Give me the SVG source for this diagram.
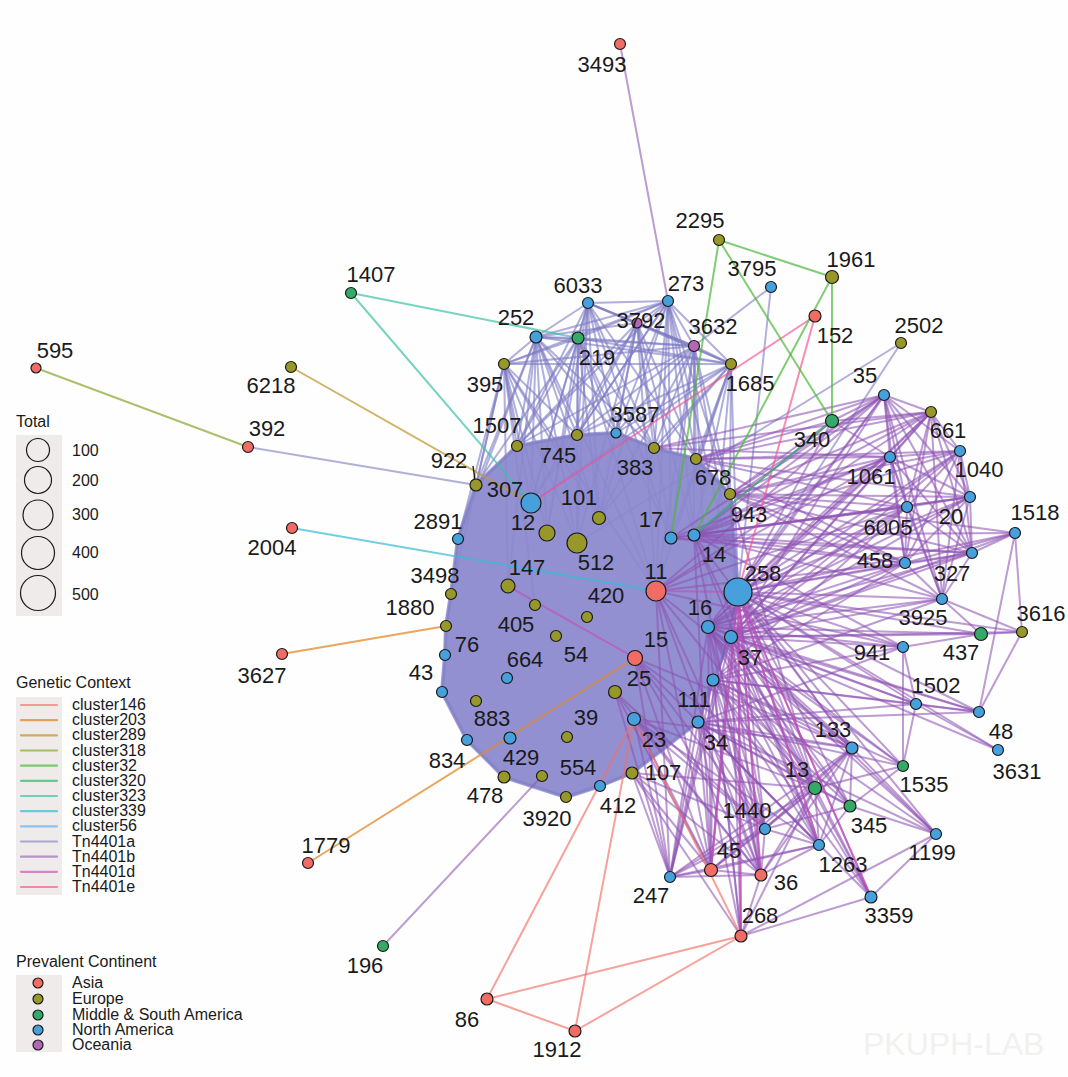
<svg xmlns="http://www.w3.org/2000/svg" width="1068" height="1077" viewBox="0 0 1068 1077">
<style>
.e line{stroke-width:2;stroke-linecap:round;fill:none}
.a line,line.a{stroke:#7d7ac3;stroke-opacity:.6}
.b line,line.b{stroke:#8e52b4;stroke-opacity:.58}
.d line,line.d{stroke:#c84cb8;stroke-opacity:.65}
.te line,line.te{stroke:#f2508f;stroke-opacity:.65}
line.c146,.c146 line{stroke:#f26f66;stroke-opacity:.65}
line.c203{stroke:#e2882a;stroke-opacity:.75}
line.c289{stroke:#c09a35;stroke-opacity:.75}
line.c318{stroke:#8fab3a;stroke-opacity:.75}
line.c32,.c32 line{stroke:#4cb83a;stroke-opacity:.7}
line.c320{stroke:#2fb870;stroke-opacity:.7}
line.c323,.c323 line{stroke:#3cc0a8;stroke-opacity:.7}
line.c339{stroke:#36bad6;stroke-opacity:.7}
line.c56{stroke:#4aa8f0;stroke-opacity:.6}
.lg line{stroke-width:2.2}
circle{stroke:#1a1a1a;stroke-width:1.2}
.as{fill:#f06c64}.eu{fill:#97972a}.ms{fill:#35aa68}.na{fill:#46a0dc}.oc{fill:#b468b4}
.lbl{font-family:"Liberation Sans",Arial,sans-serif;font-size:22px;fill:#1a1a1a;text-anchor:middle}
.lt{font-family:"Liberation Sans",Arial,sans-serif;font-size:16px;fill:#1a1a1a}
</style>
<rect width="1068" height="1077" fill="#fefefe"/>
<text x="863" y="1055" font-family="'Liberation Sans',Arial,sans-serif" font-size="32" fill="#f1f1ef">PKUPH-LAB</text>

<g id="edges" class="e">
<g class="a">
<line x1="588" y1="303" x2="668" y2="301"/><line x1="588" y1="303" x2="536" y2="337"/><line x1="588" y1="303" x2="578" y2="338"/><line x1="588" y1="303" x2="637" y2="323"/><line x1="588" y1="303" x2="694" y2="346"/><line x1="588" y1="303" x2="731" y2="364"/>
<line x1="668" y1="301" x2="637" y2="323"/><line x1="668" y1="301" x2="694" y2="346"/><line x1="668" y1="301" x2="731" y2="364"/><line x1="668" y1="301" x2="536" y2="337"/><line x1="668" y1="301" x2="578" y2="338"/><line x1="668" y1="301" x2="504" y2="364"/>
<line x1="536" y1="337" x2="578" y2="338"/><line x1="536" y1="337" x2="504" y2="364"/><line x1="536" y1="337" x2="694" y2="346"/><line x1="536" y1="337" x2="731" y2="364"/>
<line x1="578" y1="338" x2="504" y2="364"/><line x1="578" y1="338" x2="731" y2="364"/><line x1="578" y1="338" x2="694" y2="346"/>
<line x1="637" y1="323" x2="694" y2="346"/><line x1="637" y1="323" x2="731" y2="364"/><line x1="637" y1="323" x2="536" y2="337"/>
<line x1="504" y1="364" x2="731" y2="364"/><line x1="694" y1="346" x2="731" y2="364"/><line x1="694" y1="346" x2="504" y2="364"/>
<line x1="504" y1="364" x2="517" y2="446"/><line x1="504" y1="364" x2="476" y2="485"/><line x1="504" y1="364" x2="531" y2="503"/><line x1="504" y1="364" x2="458" y2="539"/><line x1="504" y1="364" x2="547" y2="533"/><line x1="504" y1="364" x2="577" y2="435"/><line x1="504" y1="364" x2="508" y2="586"/><line x1="504" y1="364" x2="577" y2="543"/><line x1="504" y1="364" x2="451" y2="594"/><line x1="504" y1="364" x2="599" y2="518"/><line x1="504" y1="364" x2="656" y2="591"/><line x1="504" y1="364" x2="535" y2="605"/>
<line x1="536" y1="337" x2="517" y2="446"/><line x1="536" y1="337" x2="577" y2="435"/><line x1="536" y1="337" x2="531" y2="503"/><line x1="536" y1="337" x2="476" y2="485"/><line x1="536" y1="337" x2="547" y2="533"/><line x1="536" y1="337" x2="577" y2="543"/><line x1="536" y1="337" x2="599" y2="518"/><line x1="536" y1="337" x2="616" y2="433"/><line x1="536" y1="337" x2="654" y2="448"/><line x1="536" y1="337" x2="508" y2="586"/><line x1="536" y1="337" x2="656" y2="591"/><line x1="536" y1="337" x2="458" y2="539"/>
<line x1="578" y1="338" x2="577" y2="435"/><line x1="578" y1="338" x2="517" y2="446"/><line x1="578" y1="338" x2="616" y2="433"/><line x1="578" y1="338" x2="531" y2="503"/><line x1="578" y1="338" x2="599" y2="518"/><line x1="578" y1="338" x2="654" y2="448"/><line x1="578" y1="338" x2="547" y2="533"/><line x1="578" y1="338" x2="577" y2="543"/><line x1="578" y1="338" x2="671" y2="538"/><line x1="578" y1="338" x2="656" y2="591"/><line x1="578" y1="338" x2="476" y2="485"/>
<line x1="588" y1="303" x2="577" y2="435"/><line x1="588" y1="303" x2="616" y2="433"/><line x1="588" y1="303" x2="654" y2="448"/><line x1="588" y1="303" x2="517" y2="446"/><line x1="588" y1="303" x2="599" y2="518"/><line x1="588" y1="303" x2="531" y2="503"/><line x1="588" y1="303" x2="547" y2="533"/><line x1="588" y1="303" x2="671" y2="538"/><line x1="588" y1="303" x2="696" y2="459"/><line x1="588" y1="303" x2="577" y2="543"/>
<line x1="637" y1="323" x2="616" y2="433"/><line x1="637" y1="323" x2="577" y2="435"/><line x1="637" y1="323" x2="654" y2="448"/><line x1="637" y1="323" x2="696" y2="459"/><line x1="637" y1="323" x2="599" y2="518"/><line x1="637" y1="323" x2="517" y2="446"/><line x1="637" y1="323" x2="531" y2="503"/><line x1="637" y1="323" x2="671" y2="538"/><line x1="637" y1="323" x2="694" y2="535"/><line x1="637" y1="323" x2="656" y2="591"/><line x1="637" y1="323" x2="577" y2="543"/>
<line x1="668" y1="301" x2="654" y2="448"/><line x1="668" y1="301" x2="696" y2="459"/><line x1="668" y1="301" x2="577" y2="435"/><line x1="668" y1="301" x2="616" y2="433"/><line x1="668" y1="301" x2="730" y2="494"/><line x1="668" y1="301" x2="671" y2="538"/><line x1="668" y1="301" x2="694" y2="535"/><line x1="668" y1="301" x2="517" y2="446"/><line x1="668" y1="301" x2="599" y2="518"/><line x1="668" y1="301" x2="531" y2="503"/><line x1="668" y1="301" x2="738" y2="592"/><line x1="668" y1="301" x2="656" y2="591"/>
<line x1="694" y1="346" x2="696" y2="459"/><line x1="694" y1="346" x2="654" y2="448"/><line x1="694" y1="346" x2="730" y2="494"/><line x1="694" y1="346" x2="577" y2="435"/><line x1="694" y1="346" x2="694" y2="535"/><line x1="694" y1="346" x2="671" y2="538"/><line x1="694" y1="346" x2="599" y2="518"/><line x1="694" y1="346" x2="616" y2="433"/><line x1="694" y1="346" x2="738" y2="592"/><line x1="694" y1="346" x2="517" y2="446"/><line x1="694" y1="346" x2="656" y2="591"/><line x1="694" y1="346" x2="708" y2="627"/>
<line x1="731" y1="364" x2="696" y2="459"/><line x1="731" y1="364" x2="730" y2="494"/><line x1="731" y1="364" x2="654" y2="448"/><line x1="731" y1="364" x2="694" y2="535"/><line x1="731" y1="364" x2="671" y2="538"/><line x1="731" y1="364" x2="738" y2="592"/><line x1="731" y1="364" x2="599" y2="518"/><line x1="731" y1="364" x2="616" y2="433"/><line x1="731" y1="364" x2="577" y2="435"/><line x1="731" y1="364" x2="708" y2="627"/><line x1="731" y1="364" x2="656" y2="591"/><line x1="731" y1="364" x2="531" y2="503"/>
<line x1="248" y1="447" x2="476" y2="485"/><line x1="901" y1="343" x2="577" y2="543"/><line x1="901" y1="343" x2="738" y2="592"/><line x1="771" y1="287" x2="738" y2="592"/><line x1="771" y1="287" x2="694" y2="346"/>
</g>
<polygon points="517,446 577,435 616,433 654,448 696,459 730,494 738,592 731,637 713,680 698,722 632,773 600,786 566,797 504,777 467,740 442,692 445,655 446,626 451,594 458,539 476,485" fill="#8a88cd" fill-opacity=".93" stroke="#8a88cd" stroke-opacity=".8" stroke-width="4" stroke-linejoin="round"/>
<g class="a">
<line x1="476" y1="485" x2="458" y2="539"/><line x1="476" y1="485" x2="517" y2="446"/><line x1="517" y1="446" x2="577" y2="435"/><line x1="577" y1="435" x2="616" y2="433"/><line x1="616" y1="433" x2="654" y2="448"/><line x1="654" y1="448" x2="696" y2="459"/><line x1="696" y1="459" x2="730" y2="494"/><line x1="730" y1="494" x2="738" y2="592"/><line x1="738" y1="592" x2="731" y2="637"/><line x1="731" y1="637" x2="713" y2="680"/><line x1="713" y1="680" x2="698" y2="722"/><line x1="698" y1="722" x2="632" y2="773"/><line x1="632" y1="773" x2="600" y2="786"/><line x1="600" y1="786" x2="566" y2="797"/><line x1="566" y1="797" x2="504" y2="777"/><line x1="504" y1="777" x2="467" y2="740"/><line x1="467" y1="740" x2="442" y2="692"/><line x1="442" y1="692" x2="445" y2="655"/><line x1="445" y1="655" x2="446" y2="626"/><line x1="446" y1="626" x2="451" y2="594"/><line x1="451" y1="594" x2="458" y2="539"/>
</g>
<g class="b">
<line x1="620" y1="44" x2="668" y2="301"/><line x1="383" y1="946" x2="542" y2="776"/>
<line x1="738" y1="592" x2="884" y2="395"/><line x1="738" y1="592" x2="931" y2="412"/><line x1="738" y1="592" x2="832" y2="421"/><line x1="738" y1="592" x2="890" y2="457"/><line x1="738" y1="592" x2="960" y2="451"/><line x1="738" y1="592" x2="970" y2="497"/><line x1="738" y1="592" x2="907" y2="507"/><line x1="738" y1="592" x2="1015" y2="533"/><line x1="738" y1="592" x2="972" y2="553"/><line x1="738" y1="592" x2="905" y2="563"/><line x1="738" y1="592" x2="942" y2="599"/><line x1="738" y1="592" x2="981" y2="634"/><line x1="738" y1="592" x2="1022" y2="632"/><line x1="738" y1="592" x2="903" y2="647"/><line x1="738" y1="592" x2="916" y2="704"/><line x1="738" y1="592" x2="979" y2="712"/><line x1="738" y1="592" x2="998" y2="750"/><line x1="738" y1="592" x2="852" y2="748"/><line x1="738" y1="592" x2="903" y2="766"/><line x1="738" y1="592" x2="815" y2="788"/><line x1="738" y1="592" x2="850" y2="806"/><line x1="738" y1="592" x2="936" y2="834"/><line x1="738" y1="592" x2="765" y2="829"/><line x1="738" y1="592" x2="819" y2="845"/><line x1="738" y1="592" x2="711" y2="870"/><line x1="738" y1="592" x2="761" y2="875"/><line x1="738" y1="592" x2="670" y2="877"/><line x1="738" y1="592" x2="871" y2="897"/><line x1="738" y1="592" x2="741" y2="936"/>
<line x1="731" y1="637" x2="884" y2="395"/><line x1="731" y1="637" x2="931" y2="412"/><line x1="731" y1="637" x2="890" y2="457"/><line x1="731" y1="637" x2="907" y2="507"/><line x1="731" y1="637" x2="970" y2="497"/><line x1="731" y1="637" x2="972" y2="553"/><line x1="731" y1="637" x2="905" y2="563"/><line x1="731" y1="637" x2="942" y2="599"/><line x1="731" y1="637" x2="981" y2="634"/><line x1="731" y1="637" x2="903" y2="647"/><line x1="731" y1="637" x2="916" y2="704"/><line x1="731" y1="637" x2="979" y2="712"/><line x1="731" y1="637" x2="852" y2="748"/><line x1="731" y1="637" x2="903" y2="766"/><line x1="731" y1="637" x2="815" y2="788"/><line x1="731" y1="637" x2="850" y2="806"/><line x1="731" y1="637" x2="936" y2="834"/><line x1="731" y1="637" x2="819" y2="845"/><line x1="731" y1="637" x2="765" y2="829"/><line x1="731" y1="637" x2="761" y2="875"/><line x1="731" y1="637" x2="711" y2="870"/><line x1="731" y1="637" x2="670" y2="877"/><line x1="731" y1="637" x2="871" y2="897"/><line x1="731" y1="637" x2="960" y2="451"/><line x1="731" y1="637" x2="1022" y2="632"/><line x1="731" y1="637" x2="741" y2="936"/><line x1="731" y1="637" x2="998" y2="750"/><line x1="731" y1="637" x2="1015" y2="533"/>
<line x1="708" y1="627" x2="884" y2="395"/><line x1="708" y1="627" x2="890" y2="457"/><line x1="708" y1="627" x2="907" y2="507"/><line x1="708" y1="627" x2="905" y2="563"/><line x1="708" y1="627" x2="942" y2="599"/><line x1="708" y1="627" x2="903" y2="647"/><line x1="708" y1="627" x2="916" y2="704"/><line x1="708" y1="627" x2="852" y2="748"/><line x1="708" y1="627" x2="815" y2="788"/><line x1="708" y1="627" x2="850" y2="806"/><line x1="708" y1="627" x2="819" y2="845"/><line x1="708" y1="627" x2="765" y2="829"/><line x1="708" y1="627" x2="761" y2="875"/><line x1="708" y1="627" x2="711" y2="870"/><line x1="708" y1="627" x2="670" y2="877"/><line x1="708" y1="627" x2="741" y2="936"/><line x1="708" y1="627" x2="931" y2="412"/><line x1="708" y1="627" x2="960" y2="451"/><line x1="708" y1="627" x2="970" y2="497"/><line x1="708" y1="627" x2="972" y2="553"/><line x1="708" y1="627" x2="981" y2="634"/><line x1="708" y1="627" x2="979" y2="712"/><line x1="708" y1="627" x2="903" y2="766"/><line x1="708" y1="627" x2="936" y2="834"/><line x1="708" y1="627" x2="871" y2="897"/>
<line x1="713" y1="680" x2="942" y2="599"/><line x1="713" y1="680" x2="903" y2="647"/><line x1="713" y1="680" x2="916" y2="704"/><line x1="713" y1="680" x2="852" y2="748"/><line x1="713" y1="680" x2="815" y2="788"/><line x1="713" y1="680" x2="850" y2="806"/><line x1="713" y1="680" x2="819" y2="845"/><line x1="713" y1="680" x2="765" y2="829"/><line x1="713" y1="680" x2="761" y2="875"/><line x1="713" y1="680" x2="711" y2="870"/><line x1="713" y1="680" x2="670" y2="877"/><line x1="713" y1="680" x2="903" y2="766"/><line x1="713" y1="680" x2="979" y2="712"/><line x1="713" y1="680" x2="936" y2="834"/><line x1="713" y1="680" x2="871" y2="897"/><line x1="713" y1="680" x2="741" y2="936"/><line x1="713" y1="680" x2="905" y2="563"/><line x1="713" y1="680" x2="907" y2="507"/>
<line x1="698" y1="722" x2="903" y2="647"/><line x1="698" y1="722" x2="852" y2="748"/><line x1="698" y1="722" x2="815" y2="788"/><line x1="698" y1="722" x2="850" y2="806"/><line x1="698" y1="722" x2="819" y2="845"/><line x1="698" y1="722" x2="765" y2="829"/><line x1="698" y1="722" x2="761" y2="875"/><line x1="698" y1="722" x2="711" y2="870"/><line x1="698" y1="722" x2="670" y2="877"/><line x1="698" y1="722" x2="916" y2="704"/><line x1="698" y1="722" x2="903" y2="766"/><line x1="698" y1="722" x2="936" y2="834"/><line x1="698" y1="722" x2="871" y2="897"/><line x1="698" y1="722" x2="741" y2="936"/><line x1="698" y1="722" x2="979" y2="712"/>
<line x1="694" y1="535" x2="884" y2="395"/><line x1="694" y1="535" x2="931" y2="412"/><line x1="694" y1="535" x2="890" y2="457"/><line x1="694" y1="535" x2="960" y2="451"/><line x1="694" y1="535" x2="907" y2="507"/><line x1="694" y1="535" x2="970" y2="497"/><line x1="694" y1="535" x2="905" y2="563"/><line x1="694" y1="535" x2="972" y2="553"/><line x1="694" y1="535" x2="832" y2="421"/><line x1="694" y1="535" x2="942" y2="599"/><line x1="694" y1="535" x2="903" y2="647"/><line x1="694" y1="535" x2="1015" y2="533"/><line x1="694" y1="535" x2="815" y2="788"/><line x1="694" y1="535" x2="852" y2="748"/><line x1="694" y1="535" x2="819" y2="845"/><line x1="694" y1="535" x2="711" y2="870"/><line x1="694" y1="535" x2="761" y2="875"/>
<line x1="730" y1="494" x2="884" y2="395"/><line x1="730" y1="494" x2="931" y2="412"/><line x1="730" y1="494" x2="890" y2="457"/><line x1="730" y1="494" x2="960" y2="451"/><line x1="730" y1="494" x2="970" y2="497"/><line x1="730" y1="494" x2="907" y2="507"/><line x1="730" y1="494" x2="832" y2="421"/><line x1="730" y1="494" x2="905" y2="563"/><line x1="730" y1="494" x2="972" y2="553"/><line x1="730" y1="494" x2="942" y2="599"/><line x1="730" y1="494" x2="1015" y2="533"/><line x1="730" y1="494" x2="815" y2="788"/>
<line x1="696" y1="459" x2="884" y2="395"/><line x1="696" y1="459" x2="931" y2="412"/><line x1="696" y1="459" x2="890" y2="457"/><line x1="696" y1="459" x2="832" y2="421"/><line x1="696" y1="459" x2="907" y2="507"/><line x1="696" y1="459" x2="970" y2="497"/><line x1="696" y1="459" x2="960" y2="451"/><line x1="696" y1="459" x2="905" y2="563"/>
<line x1="654" y1="448" x2="884" y2="395"/><line x1="654" y1="448" x2="931" y2="412"/><line x1="654" y1="448" x2="890" y2="457"/>
<line x1="671" y1="538" x2="890" y2="457"/><line x1="671" y1="538" x2="907" y2="507"/><line x1="671" y1="538" x2="970" y2="497"/><line x1="671" y1="538" x2="905" y2="563"/><line x1="671" y1="538" x2="972" y2="553"/><line x1="671" y1="538" x2="884" y2="395"/>
<line x1="634" y1="719" x2="670" y2="877"/><line x1="634" y1="719" x2="711" y2="870"/><line x1="634" y1="719" x2="761" y2="875"/><line x1="634" y1="719" x2="815" y2="788"/><line x1="634" y1="719" x2="765" y2="829"/><line x1="634" y1="719" x2="819" y2="845"/><line x1="634" y1="719" x2="852" y2="748"/>
<line x1="632" y1="773" x2="670" y2="877"/><line x1="632" y1="773" x2="711" y2="870"/><line x1="632" y1="773" x2="761" y2="875"/><line x1="632" y1="773" x2="815" y2="788"/><line x1="632" y1="773" x2="765" y2="829"/><line x1="632" y1="773" x2="741" y2="936"/>
<line x1="656" y1="591" x2="890" y2="457"/><line x1="656" y1="591" x2="907" y2="507"/><line x1="656" y1="591" x2="905" y2="563"/><line x1="656" y1="591" x2="815" y2="788"/><line x1="656" y1="591" x2="884" y2="395"/><line x1="656" y1="591" x2="931" y2="412"/><line x1="656" y1="591" x2="903" y2="647"/><line x1="656" y1="591" x2="852" y2="748"/><line x1="656" y1="591" x2="765" y2="829"/><line x1="656" y1="591" x2="711" y2="870"/><line x1="656" y1="591" x2="761" y2="875"/><line x1="656" y1="591" x2="670" y2="877"/>
<line x1="635" y1="658" x2="711" y2="870"/><line x1="635" y1="658" x2="761" y2="875"/><line x1="635" y1="658" x2="670" y2="877"/><line x1="635" y1="658" x2="765" y2="829"/><line x1="635" y1="658" x2="815" y2="788"/><line x1="635" y1="658" x2="852" y2="748"/><line x1="635" y1="658" x2="819" y2="845"/>
<line x1="615" y1="692" x2="711" y2="870"/><line x1="615" y1="692" x2="761" y2="875"/><line x1="615" y1="692" x2="670" y2="877"/><line x1="615" y1="692" x2="765" y2="829"/>
<line x1="884" y1="395" x2="931" y2="412"/><line x1="884" y1="395" x2="890" y2="457"/><line x1="884" y1="395" x2="960" y2="451"/><line x1="884" y1="395" x2="970" y2="497"/><line x1="884" y1="395" x2="907" y2="507"/><line x1="884" y1="395" x2="905" y2="563"/><line x1="884" y1="395" x2="972" y2="553"/><line x1="884" y1="395" x2="942" y2="599"/><line x1="884" y1="395" x2="832" y2="421"/>
<line x1="931" y1="412" x2="890" y2="457"/><line x1="931" y1="412" x2="960" y2="451"/><line x1="931" y1="412" x2="970" y2="497"/><line x1="931" y1="412" x2="907" y2="507"/><line x1="931" y1="412" x2="905" y2="563"/><line x1="931" y1="412" x2="972" y2="553"/><line x1="931" y1="412" x2="942" y2="599"/><line x1="931" y1="412" x2="832" y2="421"/>
<line x1="890" y1="457" x2="960" y2="451"/><line x1="890" y1="457" x2="970" y2="497"/><line x1="890" y1="457" x2="907" y2="507"/><line x1="890" y1="457" x2="905" y2="563"/><line x1="890" y1="457" x2="972" y2="553"/><line x1="890" y1="457" x2="942" y2="599"/><line x1="890" y1="457" x2="832" y2="421"/>
<line x1="960" y1="451" x2="970" y2="497"/><line x1="960" y1="451" x2="907" y2="507"/><line x1="960" y1="451" x2="905" y2="563"/><line x1="960" y1="451" x2="972" y2="553"/><line x1="960" y1="451" x2="942" y2="599"/>
<line x1="970" y1="497" x2="907" y2="507"/><line x1="970" y1="497" x2="905" y2="563"/><line x1="970" y1="497" x2="972" y2="553"/><line x1="970" y1="497" x2="942" y2="599"/>
<line x1="907" y1="507" x2="905" y2="563"/><line x1="907" y1="507" x2="972" y2="553"/><line x1="907" y1="507" x2="942" y2="599"/>
<line x1="905" y1="563" x2="972" y2="553"/><line x1="905" y1="563" x2="942" y2="599"/><line x1="972" y1="553" x2="942" y2="599"/><line x1="972" y1="553" x2="1015" y2="533"/>
<line x1="1015" y1="533" x2="1022" y2="632"/><line x1="1015" y1="533" x2="979" y2="712"/><line x1="1015" y1="533" x2="905" y2="563"/>
<line x1="942" y1="599" x2="981" y2="634"/><line x1="942" y1="599" x2="1022" y2="632"/><line x1="981" y1="634" x2="1022" y2="632"/><line x1="981" y1="634" x2="903" y2="647"/><line x1="1022" y1="632" x2="979" y2="712"/>
<line x1="903" y1="647" x2="903" y2="766"/><line x1="903" y1="647" x2="916" y2="704"/><line x1="916" y1="704" x2="979" y2="712"/><line x1="916" y1="704" x2="903" y2="766"/><line x1="916" y1="704" x2="998" y2="750"/>
<line x1="852" y1="748" x2="815" y2="788"/><line x1="852" y1="748" x2="850" y2="806"/><line x1="852" y1="748" x2="819" y2="845"/><line x1="852" y1="748" x2="765" y2="829"/><line x1="852" y1="748" x2="711" y2="870"/><line x1="852" y1="748" x2="761" y2="875"/><line x1="852" y1="748" x2="670" y2="877"/>
<line x1="903" y1="766" x2="850" y2="806"/><line x1="903" y1="766" x2="815" y2="788"/>
<line x1="815" y1="788" x2="850" y2="806"/><line x1="815" y1="788" x2="819" y2="845"/><line x1="815" y1="788" x2="765" y2="829"/><line x1="815" y1="788" x2="711" y2="870"/><line x1="815" y1="788" x2="761" y2="875"/><line x1="815" y1="788" x2="670" y2="877"/><line x1="815" y1="788" x2="741" y2="936"/><line x1="815" y1="788" x2="871" y2="897"/>
<line x1="850" y1="806" x2="936" y2="834"/><line x1="850" y1="806" x2="819" y2="845"/><line x1="850" y1="806" x2="765" y2="829"/>
<line x1="936" y1="834" x2="871" y2="897"/><line x1="936" y1="834" x2="741" y2="936"/><line x1="936" y1="834" x2="852" y2="748"/><line x1="871" y1="897" x2="741" y2="936"/>
<line x1="765" y1="829" x2="711" y2="870"/><line x1="765" y1="829" x2="761" y2="875"/><line x1="765" y1="829" x2="670" y2="877"/><line x1="765" y1="829" x2="819" y2="845"/>
<line x1="819" y1="845" x2="711" y2="870"/><line x1="819" y1="845" x2="761" y2="875"/><line x1="819" y1="845" x2="670" y2="877"/>
<line x1="711" y1="870" x2="761" y2="875"/><line x1="711" y1="870" x2="670" y2="877"/><line x1="761" y1="875" x2="670" y2="877"/><line x1="761" y1="875" x2="741" y2="936"/>
</g>
<g class="d">
<line x1="508" y1="586" x2="635" y2="658"/><line x1="656" y1="591" x2="738" y2="592"/><line x1="738" y1="592" x2="871" y2="897"/><line x1="738" y1="592" x2="741" y2="936"/><line x1="738" y1="592" x2="761" y2="875"/><line x1="738" y1="592" x2="819" y2="845"/><line x1="738" y1="592" x2="711" y2="870"/>
</g>
<g class="te">
<line x1="815" y1="316" x2="738" y2="592"/><line x1="815" y1="316" x2="531" y2="503"/>
</g>
<g class="c146">
<line x1="634" y1="719" x2="487" y2="999"/><line x1="634" y1="719" x2="575" y2="1031"/><line x1="634" y1="719" x2="741" y2="936"/><line x1="487" y1="999" x2="575" y2="1031"/><line x1="487" y1="999" x2="741" y2="936"/><line x1="575" y1="1031" x2="741" y2="936"/>
</g>
<line class="c203" x1="282" y1="654" x2="446" y2="626"/>
<line class="c203" x1="308" y1="863" x2="635" y2="658"/>
<line class="c289" x1="291" y1="367" x2="531" y2="503"/>
<line class="c318" x1="36" y1="368" x2="248" y2="447"/>
<g class="c32">
<line x1="719" y1="240" x2="832" y2="277"/><line x1="719" y1="240" x2="832" y2="421"/><line x1="832" y1="277" x2="832" y2="421"/><line x1="832" y1="277" x2="694" y2="535"/><line x1="719" y1="240" x2="671" y2="538"/>
</g>
<line class="c320" x1="832" y1="421" x2="694" y2="535"/>
<g class="c323">
<line x1="351" y1="293" x2="578" y2="338"/><line x1="351" y1="293" x2="531" y2="503"/>
</g>
<line class="c339" x1="292" y1="528" x2="656" y2="591"/>
</g>

<g id="nodes">
<g id="n3493"><circle class="as" cx="620" cy="44" r="5.5"/><text class="lbl" x="602" y="72">3493</text></g>
<g id="n2295"><circle class="eu" cx="719" cy="240" r="5.5"/><text class="lbl" x="700" y="228">2295</text></g>
<g id="n1961"><circle class="eu" cx="832" cy="277" r="6.5"/><text class="lbl" x="851" y="267">1961</text></g>
<g id="n3795"><circle class="na" cx="771" cy="287" r="5.5"/><text class="lbl" x="752" y="276">3795</text></g>
<g id="n273"><circle class="na" cx="668" cy="301" r="5.5"/><text class="lbl" x="686" y="291">273</text></g>
<g id="n6033"><circle class="na" cx="588" cy="303" r="5.5"/><text class="lbl" x="578" y="293">6033</text></g>
<g id="n1407"><circle class="ms" cx="351" cy="293" r="5.5"/><text class="lbl" x="371" y="282">1407</text></g>
<g id="n3792"><circle class="oc" cx="637" cy="323" r="5"/><text class="lbl" x="641" y="328">3792</text></g>
<g id="n3632"><circle class="oc" cx="694" cy="346" r="5.5"/><text class="lbl" x="713" y="334">3632</text></g>
<g id="n252"><circle class="na" cx="536" cy="337" r="6"/><text class="lbl" x="516" y="325">252</text></g>
<g id="n219"><circle class="ms" cx="578" cy="338" r="6"/><text class="lbl" x="597" y="365">219</text></g>
<g id="n152"><circle class="as" cx="815" cy="316" r="6"/><text class="lbl" x="835" y="343">152</text></g>
<g id="n2502"><circle class="eu" cx="901" cy="343" r="5.5"/><text class="lbl" x="919" y="333">2502</text></g>
<g id="n595"><circle class="as" cx="36" cy="368" r="5"/><text class="lbl" x="55" y="358">595</text></g>
<g id="n6218"><circle class="eu" cx="291" cy="367" r="5.5"/><text class="lbl" x="271" y="393">6218</text></g>
<g id="n395"><circle class="eu" cx="504" cy="364" r="5.5"/><text class="lbl" x="485" y="392">395</text></g>
<g id="n1685"><circle class="eu" cx="731" cy="364" r="5.5"/><text class="lbl" x="750" y="391">1685</text></g>
<g id="n35"><circle class="na" cx="884" cy="395" r="5.5"/><text class="lbl" x="865" y="383">35</text></g>
<g id="n3587"><circle class="na" cx="616" cy="433" r="5"/><text class="lbl" x="635" y="422">3587</text></g>
<g id="n661"><circle class="eu" cx="931" cy="412" r="5.5"/><text class="lbl" x="948" y="438">661</text></g>
<g id="n340"><circle class="ms" cx="832" cy="421" r="6.5"/><text class="lbl" x="812" y="447">340</text></g>
<g id="n1507"><circle class="eu" cx="517" cy="446" r="5.5"/><text class="lbl" x="497" y="433">1507</text></g>
<g id="n745"><circle class="eu" cx="577" cy="435" r="5.5"/><text class="lbl" x="558" y="463">745</text></g>
<g id="n392"><circle class="as" cx="248" cy="447" r="5.5"/><text class="lbl" x="267" y="436">392</text></g>
<g id="n383"><circle class="eu" cx="654" cy="448" r="5.5"/><text class="lbl" x="635" y="475">383</text></g>
<g id="n678"><circle class="eu" cx="696" cy="459" r="5.5"/><text class="lbl" x="713" y="485">678</text></g>
<g id="n1061"><circle class="na" cx="890" cy="457" r="5.5"/><text class="lbl" x="871" y="484">1061</text></g>
<g id="n1040"><circle class="na" cx="960" cy="451" r="5.5"/><text class="lbl" x="979" y="477">1040</text></g>
<g id="n922"><line x1="473" y1="466" x2="475" y2="480" stroke="#1a1a1a" stroke-width="1.4"/><circle class="eu" cx="476" cy="485" r="6"/><text class="lbl" x="449" y="468">922</text></g>
<g id="n307"><circle class="na" cx="531" cy="503" r="10"/><text class="lbl" x="505" y="497">307</text></g>
<g id="n943"><circle class="eu" cx="730" cy="494" r="5.5"/><text class="lbl" x="749" y="522">943</text></g>
<g id="n101"><circle class="eu" cx="599" cy="518" r="6.5"/><text class="lbl" x="579" y="505">101</text></g>
<g id="n20"><circle class="na" cx="970" cy="497" r="5.5"/><text class="lbl" x="951" y="524">20</text></g>
<g id="n6005"><circle class="na" cx="907" cy="507" r="5.5"/><text class="lbl" x="888" y="535">6005</text></g>
<g id="n1518"><circle class="na" cx="1015" cy="533" r="5.5"/><text class="lbl" x="1035" y="520">1518</text></g>
<g id="n2891"><circle class="na" cx="458" cy="539" r="5.5"/><text class="lbl" x="438" y="529">2891</text></g>
<g id="n12"><circle class="eu" cx="547" cy="533" r="8"/><text class="lbl" x="523" y="530">12</text></g>
<g id="n512"><circle class="eu" cx="577" cy="543" r="10"/><text class="lbl" x="596" y="570">512</text></g>
<g id="n17"><circle class="na" cx="671" cy="538" r="6"/><text class="lbl" x="651" y="527">17</text></g>
<g id="n14"><circle class="na" cx="694" cy="535" r="6"/><text class="lbl" x="714" y="562">14</text></g>
<g id="n2004"><circle class="as" cx="292" cy="528" r="5.5"/><text class="lbl" x="272" y="555">2004</text></g>
<g id="n327"><circle class="na" cx="972" cy="553" r="5.5"/><text class="lbl" x="952" y="581">327</text></g>
<g id="n458"><circle class="na" cx="905" cy="563" r="5.5"/><text class="lbl" x="875" y="568">458</text></g>
<g id="n147"><circle class="eu" cx="508" cy="586" r="7"/><text class="lbl" x="527" y="575">147</text></g>
<g id="n3498"><circle class="eu" cx="451" cy="594" r="5.5"/><text class="lbl" x="435" y="583">3498</text></g>
<g id="n11"><circle class="as" cx="656" cy="591" r="10"/><text class="lbl" x="656" y="579">11</text></g>
<g id="n258"><circle class="na" cx="738" cy="592" r="14"/><text class="lbl" x="763" y="581">258</text></g>
<g id="n3925"><circle class="na" cx="942" cy="599" r="5.5"/><text class="lbl" x="923" y="625">3925</text></g>
<g id="n405"><circle class="eu" cx="535" cy="605" r="5.5"/><text class="lbl" x="516" y="632">405</text></g>
<g id="n420"><circle class="eu" cx="587" cy="617" r="5.5"/><text class="lbl" x="606" y="603">420</text></g>
<g id="n1880"><circle class="eu" cx="446" cy="626" r="5.5"/><text class="lbl" x="410" y="615">1880</text></g>
<g id="n16"><circle class="na" cx="708" cy="627" r="6.5"/><text class="lbl" x="700" y="615">16</text></g>
<g id="n437"><circle class="ms" cx="981" cy="634" r="6.5"/><text class="lbl" x="961" y="660">437</text></g>
<g id="n3616"><circle class="eu" cx="1022" cy="632" r="5.5"/><text class="lbl" x="1041" y="621">3616</text></g>
<g id="n54"><circle class="eu" cx="556" cy="636" r="5.5"/><text class="lbl" x="576" y="662">54</text></g>
<g id="n37"><circle class="na" cx="731" cy="637" r="6.5"/><text class="lbl" x="750" y="665">37</text></g>
<g id="n76"><circle class="na" cx="445" cy="655" r="5.5"/><text class="lbl" x="467" y="652">76</text></g>
<g id="n3627"><circle class="as" cx="282" cy="654" r="5.5"/><text class="lbl" x="262" y="683">3627</text></g>
<g id="n941"><circle class="na" cx="903" cy="647" r="5.5"/><text class="lbl" x="872" y="660">941</text></g>
<g id="n15"><circle class="as" cx="635" cy="658" r="7.5"/><text class="lbl" x="656" y="647">15</text></g>
<g id="n664"><circle class="na" cx="507" cy="678" r="5.5"/><text class="lbl" x="525" y="667">664</text></g>
<g id="n25"><circle class="eu" cx="615" cy="692" r="6.5"/><text class="lbl" x="639" y="686">25</text></g>
<g id="n43"><circle class="na" cx="442" cy="692" r="5.5"/><text class="lbl" x="421" y="680">43</text></g>
<g id="n111"><circle class="na" cx="713" cy="680" r="6"/><text class="lbl" x="694" y="707">111</text></g>
<g id="n1502"><circle class="na" cx="916" cy="704" r="5.5"/><text class="lbl" x="936" y="693">1502</text></g>
<g id="n883"><circle class="eu" cx="476" cy="701" r="5.5"/><text class="lbl" x="492" y="726">883</text></g>
<g id="n48"><circle class="na" cx="979" cy="712" r="5.5"/><text class="lbl" x="1001" y="739">48</text></g>
<g id="n39"><circle class="eu" cx="567" cy="737" r="5.5"/><text class="lbl" x="586" y="725">39</text></g>
<g id="n23"><circle class="na" cx="634" cy="719" r="6.5"/><text class="lbl" x="654" y="747">23</text></g>
<g id="n34"><circle class="na" cx="698" cy="722" r="6"/><text class="lbl" x="716" y="750">34</text></g>
<g id="n834"><circle class="na" cx="467" cy="740" r="5.5"/><text class="lbl" x="447" y="768">834</text></g>
<g id="n429"><circle class="na" cx="510" cy="738" r="6"/><text class="lbl" x="521" y="765">429</text></g>
<g id="n133"><circle class="na" cx="852" cy="748" r="6"/><text class="lbl" x="833" y="737">133</text></g>
<g id="n3631"><circle class="na" cx="998" cy="750" r="5.5"/><text class="lbl" x="1017" y="779">3631</text></g>
<g id="n478"><circle class="eu" cx="504" cy="777" r="6"/><text class="lbl" x="485" y="803">478</text></g>
<g id="n554"><circle class="eu" cx="542" cy="776" r="5.5"/><text class="lbl" x="578" y="775">554</text></g>
<g id="n107"><circle class="eu" cx="632" cy="773" r="6"/><text class="lbl" x="663" y="780">107</text></g>
<g id="n13"><circle class="ms" cx="815" cy="788" r="6.5"/><text class="lbl" x="797" y="777">13</text></g>
<g id="n1535"><circle class="ms" cx="903" cy="766" r="5.5"/><text class="lbl" x="924" y="792">1535</text></g>
<g id="n412"><circle class="na" cx="600" cy="786" r="5.5"/><text class="lbl" x="618" y="813">412</text></g>
<g id="n3920"><circle class="eu" cx="566" cy="797" r="5.5"/><text class="lbl" x="547" y="826">3920</text></g>
<g id="n345"><circle class="ms" cx="850" cy="806" r="6"/><text class="lbl" x="869" y="833">345</text></g>
<g id="n1440"><circle class="na" cx="765" cy="829" r="5.5"/><text class="lbl" x="747" y="818">1440</text></g>
<g id="n1199"><circle class="na" cx="936" cy="834" r="5.5"/><text class="lbl" x="932" y="860">1199</text></g>
<g id="n1263"><circle class="na" cx="819" cy="845" r="5.5"/><text class="lbl" x="843" y="872">1263</text></g>
<g id="n1779"><circle class="as" cx="308" cy="863" r="5.5"/><text class="lbl" x="326" y="853">1779</text></g>
<g id="n45"><circle class="as" cx="711" cy="870" r="6.5"/><text class="lbl" x="729" y="858">45</text></g>
<g id="n36"><circle class="as" cx="761" cy="875" r="6"/><text class="lbl" x="786" y="890">36</text></g>
<g id="n247"><circle class="na" cx="670" cy="877" r="5.5"/><text class="lbl" x="651" y="903">247</text></g>
<g id="n3359"><circle class="na" cx="871" cy="897" r="6"/><text class="lbl" x="889" y="923">3359</text></g>
<g id="n268"><circle class="as" cx="741" cy="936" r="6"/><text class="lbl" x="760" y="923">268</text></g>
<g id="n196"><circle class="ms" cx="383" cy="946" r="5.5"/><text class="lbl" x="365" y="973">196</text></g>
<g id="n86"><circle class="as" cx="487" cy="999" r="6"/><text class="lbl" x="467" y="1027">86</text></g>
<g id="n1912"><circle class="as" cx="575" cy="1031" r="6"/><text class="lbl" x="557" y="1057">1912</text></g>
</g>

<g id="legend-total">
<text class="lt" x="16" y="427">Total</text>
<rect x="16" y="435" width="46" height="181" fill="#efebea"/>
<circle cx="38" cy="450" r="11.5" fill="none"/>
<circle cx="38" cy="480" r="13.5" fill="none"/>
<circle cx="38" cy="515" r="15" fill="none"/>
<circle cx="38" cy="553" r="16.5" fill="none"/>
<circle cx="38" cy="593" r="17.5" fill="none"/>
<text class="lt" x="72" y="456">100</text>
<text class="lt" x="72" y="486">200</text>
<text class="lt" x="72" y="520">300</text>
<text class="lt" x="72" y="558">400</text>
<text class="lt" x="72" y="600">500</text>
</g>

<g id="legend-context" class="e lg">
<text class="lt" x="16" y="688">Genetic Context</text>
<rect x="16" y="697" width="46" height="198" fill="#efebea"/>
<line class="c146" x1="21" y1="705" x2="57" y2="705"/>
<line class="c203" x1="21" y1="720.2" x2="57" y2="720.2"/>
<line class="c289" x1="21" y1="735.3" x2="57" y2="735.3"/>
<line class="c318" x1="21" y1="750.5" x2="57" y2="750.5"/>
<line class="c32" x1="21" y1="765.7" x2="57" y2="765.7"/>
<line class="c320" x1="21" y1="780.8" x2="57" y2="780.8"/>
<line class="c323" x1="21" y1="796" x2="57" y2="796"/>
<line class="c339" x1="21" y1="811.2" x2="57" y2="811.2"/>
<line class="c56" x1="21" y1="826.3" x2="57" y2="826.3"/>
<line class="a" x1="21" y1="841.5" x2="57" y2="841.5"/>
<line class="b" x1="21" y1="856.7" x2="57" y2="856.7"/>
<line class="d" x1="21" y1="871.8" x2="57" y2="871.8"/>
<line class="te" x1="21" y1="887" x2="57" y2="887"/>
<text class="lt" x="72" y="710">cluster146</text>
<text class="lt" x="72" y="725.2">cluster203</text>
<text class="lt" x="72" y="740.3">cluster289</text>
<text class="lt" x="72" y="755.5">cluster318</text>
<text class="lt" x="72" y="770.7">cluster32</text>
<text class="lt" x="72" y="785.8">cluster320</text>
<text class="lt" x="72" y="801">cluster323</text>
<text class="lt" x="72" y="816.2">cluster339</text>
<text class="lt" x="72" y="831.3">cluster56</text>
<text class="lt" x="72" y="846.5">Tn4401a</text>
<text class="lt" x="72" y="861.7">Tn4401b</text>
<text class="lt" x="72" y="876.8">Tn4401d</text>
<text class="lt" x="72" y="892">Tn4401e</text>
</g>

<g id="legend-continent">
<text class="lt" x="16" y="967">Prevalent Continent</text>
<rect x="16" y="975" width="46" height="77" fill="#efebea"/>
<circle class="as" cx="38" cy="983" r="5"/>
<circle class="eu" cx="38" cy="999" r="5"/>
<circle class="ms" cx="38" cy="1015" r="5"/>
<circle class="na" cx="38" cy="1030" r="5"/>
<circle class="oc" cx="38" cy="1045" r="5"/>
<text class="lt" x="72" y="988">Asia</text>
<text class="lt" x="72" y="1004">Europe</text>
<text class="lt" x="72" y="1020">Middle &amp; South America</text>
<text class="lt" x="72" y="1035">North America</text>
<text class="lt" x="72" y="1050">Oceania</text>
</g>
</svg>
